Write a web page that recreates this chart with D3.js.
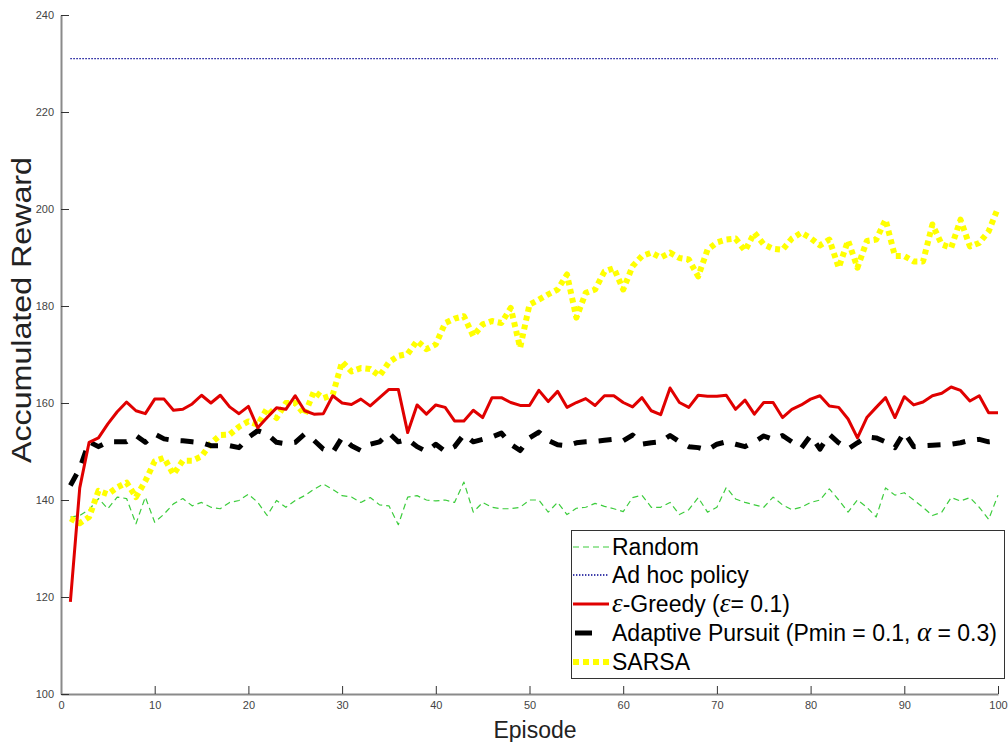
<!DOCTYPE html>
<html><head><meta charset="utf-8">
<script src="https://cdn.jsdelivr.net/npm/d3@7"></script>
<style>body{margin:0;background:#fff}svg{display:block}</style>
</head><body><svg id="c" width="1008" height="742"></svg>
<script>
const episodes = d3.range(1, 101);
const xTicks = [0,10,20,30,40,50,60,70,80,90,100];
const yTicks = [100,120,140,160,180,200,220,240];
const adHoc = 231;
const random = [136.5,136.8,138,140.3,138.2,140.6,140.3,135.1,140.6,135.4,
137.1,139.2,140.3,138.8,139.5,138.5,138.2,139.5,139.9,141.2,
139.5,136.8,139.9,138.5,139.9,140.9,142.2,143.3,142.2,140.9,
140.6,139.5,140.5,139,138.8,134.9,140.6,140.9,140,139.8,
140,139.5,143.7,137.5,139.5,138.5,138.2,138.2,138.5,140,
140,137.5,139.5,137,138.3,138.5,139.3,138.7,138.2,137.6,
140.5,141,138.5,138.5,139.5,137,138,140.5,137.5,138.5,
142.6,140.2,139.5,139,138.5,140.6,139,138,138.5,139.5,
140,142.3,140,137.5,140,138.5,136.5,142.5,141,141.5,
140,138.5,136.8,137.5,140.5,139.8,140.5,138.5,136,141];
const greedy = [119,142.5,151.9,152.8,155.7,158.2,160.2,158.4,157.8,160.8,
160.8,158.5,158.7,159.8,161.6,160,161.6,159.2,157.8,159.3,
154.9,157,159,158.7,161.5,158.4,157.7,157.8,161.5,160,
159.7,160.8,159.4,161.1,162.8,162.8,153.9,159.6,157.7,159.6,
159.1,156.3,156.3,158.5,157,161.1,161.1,160.1,159.5,159.5,
162.6,160.3,162.4,159.1,160.1,160.9,159.5,161.5,161.5,160.1,
159.2,161.1,158.4,157.6,163.1,160.1,159.1,161.6,161.4,161.4,
161.6,158.7,160.6,157.7,160.1,160.1,157,158.7,159.6,160.8,
161.5,159.4,159.1,156.7,152.8,157,159.1,161.1,157,161.3,
159.6,160.2,161.5,162,163.3,162.6,160.4,161.5,158,158];
const pursuit = [143,146.5,152,151,152,152,152,153.3,151.9,153.6,
152.6,152.3,152.2,152,151.8,151.2,151.2,151.2,150.8,152.9,
154.3,153.6,151.9,151.6,151.9,153.6,152.3,150.5,149.8,152.9,
151.2,150.2,151.5,152,153.8,152,152.5,151,150,151.5,
150,151,153.5,152,152.5,153,153.8,151.5,150.2,152.8,
154,152.3,151.4,151.2,151.8,152,152.1,152.3,152.5,152.2,
153.4,151.5,151.8,152,153.3,152,151,150.8,150.3,151.5,
152,151.5,151,152,153.2,152.5,153.3,152,150.7,153.3,
150.5,153.5,151.8,150.5,151.8,153,152.8,152,150.8,154,
151,151.2,151.3,151.4,151.5,151.8,152.3,152.5,152,152.2];
const sarsa = [136.2,135.2,136.5,141.9,141.2,142.6,143.6,140.6,143.9,148,
148.7,145.3,148.1,148.1,149,151.7,153.4,153.5,155.1,156.2,
155.5,158.9,156.9,160,160,157.6,162.4,161,161.7,168.5,
166.5,167.2,167,165.6,168.4,169.7,170.1,172.8,171.1,172.1,
176.5,177.4,177.9,173.8,176.2,176.9,176.5,179.6,171.4,180.3,
181.3,182.4,183.4,186.5,177.6,182.7,183.4,187.1,187.8,183.4,
188.2,190.3,191,190,191,189.9,189.6,186.1,191.6,193.1,
193.7,193.9,191.4,195.1,192.7,191.8,191.6,193.9,195.1,194,
192.5,193.7,187.9,193.5,187.9,193.4,193.7,197.8,190.3,190.3,
189.2,189.2,196.8,192.7,192,197.8,192.3,193,195.4,200.2];

// legend labels as [text, isGreek] runs
const legendLabels = [
  [["Random",false]],
  [["Ad hoc policy",false]],
  [["ε",true],["-Greedy (",false],["ε",true],["= 0.1)",false]],
  [["Adaptive Pursuit (Pmin = 0.1, ",false],["α",true],[" = 0.3)",false]],
  [["SARSA",false]]
];

const svg = d3.select("#c");
const x = d3.scaleLinear().domain([0,100]).range([61,998]);
const y = d3.scaleLinear().domain([100,240]).range([694,15]);
const FONT = "'Liberation Sans', Arial, sans-serif";
const SERIF = "'Liberation Serif', 'Times New Roman', serif";

const styles = [
  {data: random, color:"#3ccc3c", width:1.2, dash:"6,4", ldash:"6,4"},
  {data: episodes.map(()=>adHoc), color:"#000090", width:1.4, dash:"1.4,1.6", ldash:"1.4,1.6"},
  {data: greedy, color:"#e00000", width:3, dash:null, ldash:null},
  {data: pursuit, color:"#000000", width:5, dash:"13,12", ldash:"17,60"},
  {data: sarsa, color:"#ffff00", width:6, dash:"5,4", ldash:"6,4"}
];

// axes
const xAxis = d3.axisBottom(x).tickValues(xTicks).tickSizeInner(-8).tickSizeOuter(0).tickPadding(7);
const yAxis = d3.axisLeft(y).tickValues(yTicks).tickSizeInner(-8).tickSizeOuter(0).tickPadding(7);
const gx = svg.append("g").attr("transform","translate(0,694)").call(xAxis);
const gy = svg.append("g").attr("transform","translate(61,0)").call(yAxis);
[gx,gy].forEach(g=>{
  g.select(".domain").attr("stroke","#8a8a8a").attr("stroke-width",2);
  g.selectAll(".tick line").attr("stroke","#333").attr("stroke-width",1);
  g.selectAll(".tick text").attr("fill","#444").style("font-family",FONT).style("font-size","11px");
});

// series
const line = d3.line().x((d,i)=>x(episodes[i])).y(d=>y(d));
const order = [1,0,4,3,2];
order.forEach(k=>{
  const s = styles[k];
  svg.append("path").datum(s.data).attr("d",line)
    .attr("fill","none").attr("stroke",s.color).attr("stroke-width",s.width)
    .attr("stroke-dasharray",s.dash).attr("stroke-linejoin","round");
});

// axis labels
svg.append("text").attr("x",535).attr("y",738).attr("text-anchor","middle")
  .style("font-family",FONT).style("font-size","23px").attr("fill","#222").text("Episode");
svg.append("text").attr("transform","translate(31,310) rotate(-90)").attr("text-anchor","middle")
  .style("font-family",FONT).style("font-size","27px").attr("fill","#222")
  .attr("textLength",306).attr("lengthAdjust","spacingAndGlyphs").text("Accumulated Reward");

// legend
const lg = svg.append("g");
lg.append("rect").attr("x",571.5).attr("y",530.5).attr("width",433).attr("height",148)
  .attr("fill","#fff").attr("stroke","#333").attr("stroke-width",1);
const rowY = [547,575,604,633,662];
styles.forEach((s,i)=>{
  lg.append("line").attr("x1",573).attr("x2",609).attr("y1",rowY[i]).attr("y2",rowY[i])
    .attr("stroke",s.color).attr("stroke-width",s.width).attr("stroke-dasharray",s.ldash)
    .attr("stroke-dashoffset", i===3 ? -2 : 0);
  const t = lg.append("text").attr("x",612).attr("y",rowY[i]+8)
    .style("font-family",FONT).style("font-size","23px").attr("fill","#000");
  legendLabels[i].forEach(([txt,greek])=>{
    const ts = t.append("tspan").text(txt);
    if (greek) ts.style("font-family",SERIF).style("font-style","italic").style("font-size","27px");
  });
});
</script></body></html>
